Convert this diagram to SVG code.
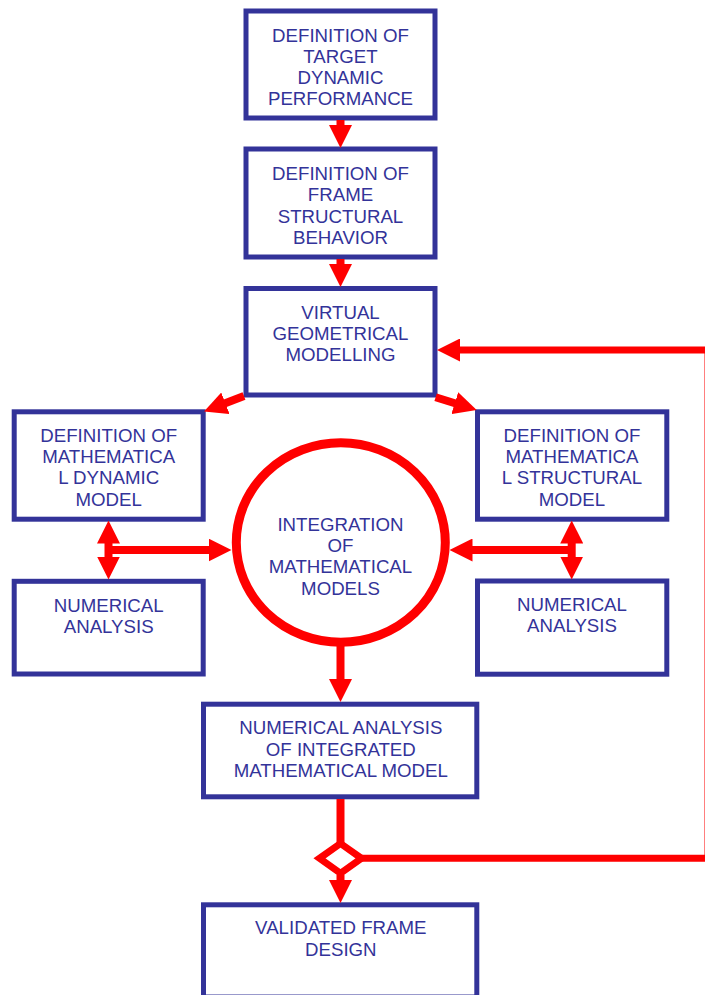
<svg xmlns="http://www.w3.org/2000/svg" width="705" height="995" viewBox="0 0 705 995">
<style>
.box{fill:#ffffff;stroke:#333399;stroke-width:5}
.lbl{font-family:"Liberation Sans",Arial,sans-serif;font-size:18.67px;fill:#333399;text-anchor:middle}
.circ{fill:#ffffff;stroke:#ff0000;stroke-width:9}
.con{fill:none;stroke:#ff0000;stroke-width:8}
.fb{fill:none;stroke:#ff0000;stroke-width:7}
.dia{fill:#ffffff;stroke:#ff0000;stroke-width:7;stroke-linejoin:miter}
</style>
<defs>
<marker id="ah" viewBox="0 0 23 23" markerWidth="23" markerHeight="23" refX="1" refY="11.5" orient="auto-start-reverse" markerUnits="userSpaceOnUse">
<path d="M0,0 L23,11.5 L0,23 Z" fill="#ff0000"/>
</marker>
</defs>
<rect width="705" height="995" fill="#ffffff"/>

<g id="n1">
<rect class="box" x="246" y="11" width="189" height="107"/>
<text class="lbl"><tspan x="340.5" y="41.5">DEFINITION OF</tspan><tspan x="340.5" y="62.8">TARGET</tspan><tspan x="340.5" y="84.1">DYNAMIC</tspan><tspan x="340.5" y="105.4">PERFORMANCE</tspan></text>
</g>
<g id="n2">
<rect class="box" x="246" y="149" width="189" height="108"/>
<text class="lbl"><tspan x="340.5" y="180">DEFINITION OF</tspan><tspan x="340.5" y="201.3">FRAME</tspan><tspan x="340.5" y="222.6">STRUCTURAL</tspan><tspan x="340.5" y="243.9">BEHAVIOR</tspan></text>
</g>
<g id="n3">
<rect class="box" x="246" y="288.5" width="189" height="106.5"/>
<text class="lbl"><tspan x="340.5" y="318.7">VIRTUAL</tspan><tspan x="340.5" y="340">GEOMETRICAL</tspan><tspan x="340.5" y="361.3">MODELLING</tspan></text>
</g>
<g id="n4">
<rect class="box" x="14.2" y="411.8" width="189" height="107.4"/>
<text class="lbl"><tspan x="108.7" y="441.7">DEFINITION OF</tspan><tspan x="108.7" y="463">MATHEMATICA</tspan><tspan x="108.7" y="484.3">L DYNAMIC</tspan><tspan x="108.7" y="505.6">MODEL</tspan></text>
</g>
<g id="n5">
<rect class="box" x="477.5" y="411.8" width="189.3" height="107.4"/>
<text class="lbl"><tspan x="572" y="441.7">DEFINITION OF</tspan><tspan x="572" y="463">MATHEMATICA</tspan><tspan x="572" y="484.3">L STRUCTURAL</tspan><tspan x="572" y="505.6">MODEL</tspan></text>
</g>
<g id="n6">
<rect class="box" x="14.2" y="581.3" width="189" height="92.7"/>
<text class="lbl"><tspan x="108.7" y="611.5">NUMERICAL</tspan><tspan x="108.7" y="632.5">ANALYSIS</tspan></text>
</g>
<g id="n7">
<rect class="box" x="477.5" y="581" width="189.3" height="93.2"/>
<text class="lbl"><tspan x="572" y="611.3">NUMERICAL</tspan><tspan x="572" y="632.3">ANALYSIS</tspan></text>
</g>
<g id="n_circle">
<ellipse class="circ" cx="340.8" cy="542.5" rx="104.5" ry="99.7"/>
<text class="lbl"><tspan x="340.5" y="530.6">INTEGRATION</tspan><tspan x="340.5" y="552">OF</tspan><tspan x="340.5" y="573.4">MATHEMATICAL</tspan><tspan x="340.5" y="595.2">MODELS</tspan></text>
</g>
<g id="n8">
<rect class="box" x="203.5" y="704.2" width="273.3" height="92.6"/>
<text class="lbl"><tspan x="340.8" y="734.4">NUMERICAL ANALYSIS</tspan><tspan x="340.8" y="755.8">OF INTEGRATED</tspan><tspan x="340.8" y="777.2">MATHEMATICAL MODEL</tspan></text>
</g>
<g id="n9">
<rect class="box" x="203.5" y="904.8" width="273.3" height="92.2"/>
<text class="lbl"><tspan x="340.8" y="934.3">VALIDATED FRAME</tspan><tspan x="340.8" y="955.7">DESIGN</tspan></text>
</g>

<g id="connectors">
<path class="con" d="M340.5,120 V126" marker-end="url(#ah)"/>
<path class="con" d="M340.5,259 V265" marker-end="url(#ah)"/>
<path class="con" d="M244,396 L224.5,403.6" marker-end="url(#ah)"/>
<path class="con" d="M435.6,397.2 L455.7,403.5" marker-end="url(#ah)"/>
<path class="con" d="M108.5,542.5 V557.5" marker-start="url(#ah)" marker-end="url(#ah)"/>
<path class="con" d="M108.5,550 H209.5" marker-end="url(#ah)"/>
<path class="con" d="M571.7,542.5 V557.5" marker-start="url(#ah)" marker-end="url(#ah)"/>
<path class="con" d="M571.7,550 H471.5" marker-end="url(#ah)"/>
<path class="con" d="M340.5,646 V680" marker-end="url(#ah)"/>
<path class="con" d="M340.5,799 V845"/>
<path class="fb" d="M361.5,858.3 H708 V350 H459" marker-end="url(#ah)"/>
<polygon class="dia" points="340.5,843.5 361.5,858.3 340.5,873.3 319.5,858.3"/>
<path class="con" d="M340.5,875 V881" marker-end="url(#ah)"/>
</g>
</svg>
